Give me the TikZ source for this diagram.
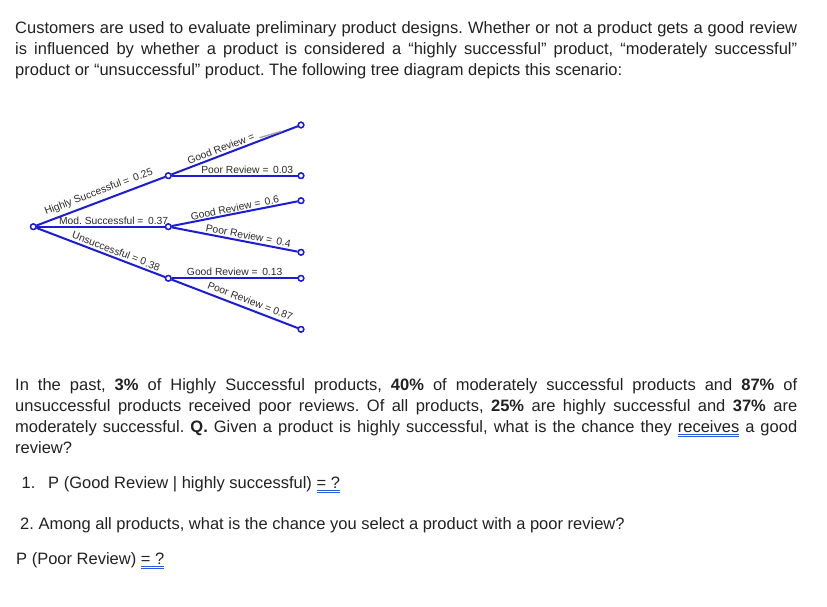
\documentclass[tikz,border=0pt]{standalone}
\usepackage{fontspec}
\setmainfont{Liberation Sans}
\frenchspacing
\definecolor{txt}{HTML}{222222}
\definecolor{lbl}{HTML}{2a2a2a}
\definecolor{treeblue}{RGB}{28,28,215}
\definecolor{ulblue}{RGB}{40,90,220}
\newsavebox\ulbox
\newcommand\dblul[1]{\sbox\ulbox{#1}\rlap{\usebox\ulbox}{\color{ulblue}\rule[-2.6pt]{\wd\ulbox}{0.7pt}\llap{\rule[-4.4pt]{\wd\ulbox}{0.7pt}}}}
\newcommand\jline[1]{\makebox[782pt][s]{#1}}
\tikzset{
  body/.style={anchor=base west, inner sep=0pt, text=txt, font=\fontsize{16.5}{21}\selectfont},
  pt/.style={circle, draw=treeblue, fill=white, line width=1.4pt, minimum size=5.5pt, inner sep=0pt},
  br/.style={draw=treeblue, line width=2pt},
  lab/.style={sloped, above, inner sep=0.5pt, text=lbl, font=\fontsize{10.3}{12}\selectfont},
}
\begin{document}
\begin{tikzpicture}[x=1pt,y=-1pt]
\path[use as bounding box, fill=white] (0,0) rectangle (827,607);
% introductory paragraph
\node[body] (p1a) at (15,34) {\jline{Customers are used to evaluate preliminary product designs. Whether or not a product gets a good review}};
\node[body] (p1b) at (15,55) {\jline{is influenced by whether a product is considered a “highly successful” product, “moderately successful”}};
\node[body] (p1c) at (15,76) {product or “unsuccessful” product. The following tree diagram depicts this scenario:};
% tree
\node[pt] (r) at (33.3,226.7) {};
\node[pt] (h) at (168.3,175.7) {};
\node[pt] (m) at (168.3,226.7) {};
\node[pt] (u) at (168.3,278.3) {};
\node[pt] (l1) at (301,125) {};
\node[pt] (l2) at (301,175.7) {};
\node[pt] (l3) at (301,200.7) {};
\node[pt] (l4) at (301,252.3) {};
\node[pt] (l5) at (301,278.3) {};
\node[pt] (l6) at (301,329.3) {};
\draw[br] (r) -- node[lab, pos=0.51, above=3pt] {Highly Successful =\, 0.25} (h);
\draw[br] (r) -- node[lab, pos=0.6, above=0.5pt] {Mod. Successful =\, 0.37} (m);
\draw[br] (r) -- node[lab, pos=0.6, above=1.5pt] {Unsuccessful = 0.38} (u);
\draw[br] (h) -- node[lab, pos=0.41, above=1.5pt] {Good Review =} (l1);
\draw[br] (h) -- node[lab, pos=0.6, above=1pt] {Poor Review =\, 0.03} (l2);
\draw[br] (m) -- node[lab, pos=0.51, above=0.5pt] {Good Review =\, 0.6} (l3);
\draw[br] (m) -- node[lab, pos=0.6, above=1pt] {Poor Review =\, 0.4} (l4);
\draw[br] (u) -- node[lab, pos=0.5, above=1.5pt] {Good Review =\, 0.13} (l5);
\draw[br] (u) -- node[lab, pos=0.6, above=3pt] {Poor Review = 0.87} (l6);
\draw[gray!70, line width=1.4pt, line cap=round] (260,137.6) -- (281,131.4);
% redraw points on top
\foreach \x/\y in {33.3/226.7, 168.3/175.7, 168.3/226.7, 168.3/278.3, 301/125, 301/175.7, 301/200.7, 301/252.3, 301/278.3, 301/329.3}
  \node[pt] at (\x,\y) {};
% second paragraph
\node[body] (p2a) at (15,390) {\jline{In the past, \textbf{3\%} of Highly Successful products, \textbf{40\%} of moderately successful products and \textbf{87\%} of}};
\node[body] (p2b) at (15,411) {\jline{unsuccessful products received poor reviews. Of all products, \textbf{25\%} are highly successful and \textbf{37\%} are}};
\node[body] (p2c) at (15,432) {\jline{moderately successful. \textbf{Q.} Given a product is highly successful, what is the chance they \dblul{receives} a good}};
\node[body] (p2d) at (15,453) {review?};
% questions
\node[body] (q1n) at (21.5,488) {1.};
\node[body] (q1) at (48,488) {P (Good Review | highly successful) \dblul{= ?}};
\node[body] (q2) at (20,529) {2. Among all products, what is the chance you select a product with a poor review?};
\node[body] (q3) at (16,564) {P (Poor Review) \dblul{= ?}};
\end{tikzpicture}
\end{document}
